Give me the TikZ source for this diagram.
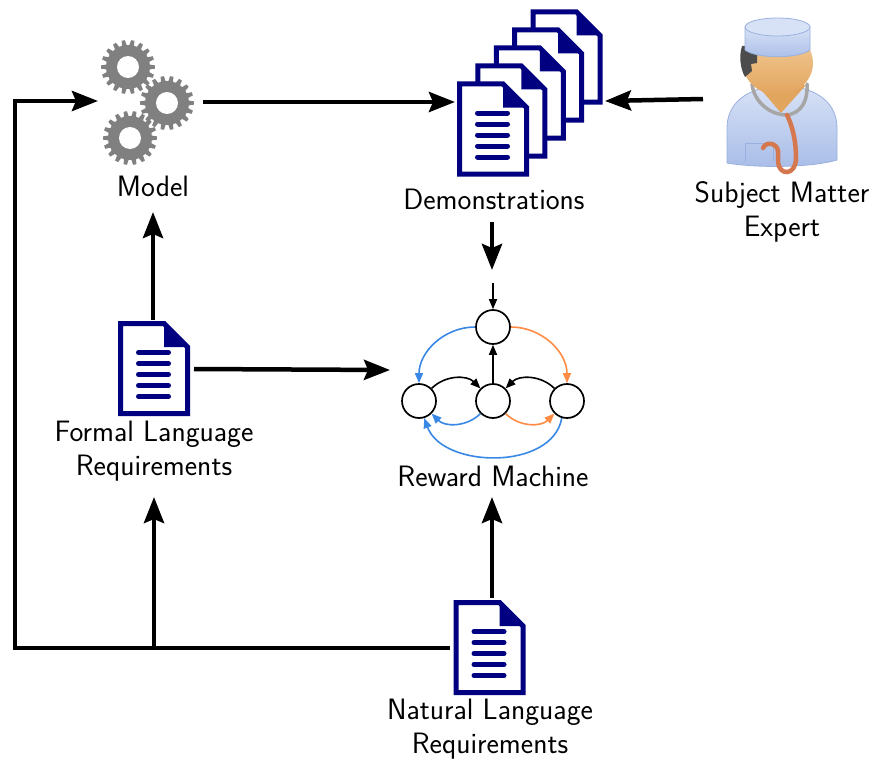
\documentclass[tikz,border=0pt]{standalone}
\usepackage{fontspec}
\usetikzlibrary{arrows.meta,calc}

\definecolor{docblue}{HTML}{000080}
\definecolor{gearfill}{HTML}{808080}
\definecolor{rmblue}{HTML}{3A88E6}
\definecolor{rmorange}{HTML}{FF8C45}
\definecolor{coatlight}{HTML}{D8E2F6}
\definecolor{coatdark}{HTML}{A9BDE8}
\definecolor{coatedge}{HTML}{9AB0DE}
\definecolor{skinlight}{HTML}{F4CE9C}
\definecolor{skindark}{HTML}{E2A55E}
\definecolor{tubegray}{HTML}{A6A6A6}
\definecolor{tubeorange}{HTML}{D5784F}

\tikzset{
  x=1pt, y=1pt,
  flow/.style={line width=4.5pt, -{Stealth[length=26pt,width=20pt,inset=4pt]}},
  label/.style={font=\sffamily\fontsize{29.5}{34}\selectfont, align=center, inner sep=0pt},
  state/.style={circle, draw, line width=1.7pt, minimum size=34pt, inner sep=0pt, fill=white},
  rmedge/.style={line width=1.6pt, -{Triangle[length=10pt,width=8pt]}},
  % one sheet of paper with a folded corner
  sheet/.pic={
    \filldraw[fill=white, draw=docblue, line width=5pt, line join=miter]
      (-33.5,45) -- (10,45) -- (33.5,21.5) -- (33.5,-45) -- (-33.5,-45) -- cycle;
    \fill[docblue] (10,45) -- (10,21.5) -- (33.5,21.5) -- cycle;
  },
  % a sheet with written lines
  textsheet/.pic={
    \pic {sheet};
    \foreach \yy in {16,5,-6,-17,-28}
      \draw[docblue, line width=5pt, line cap=round] (-15.5,\yy) -- (14.5,\yy);
  },
  % a gear wheel
  gear/.pic={
    \fill[gearfill] (0,0) circle (22);
    \foreach \a in {0,20,...,340}
      \fill[gearfill] (\a-7:21) -- (\a-3.5:27) -- (\a+3.5:27) -- (\a+7:21) -- cycle;
    \fill[white] (0,0) circle (11);
  }
}

\begin{document}
\begin{tikzpicture}
\useasboundingbox (0,0) rectangle (873,-760);

% ---- Model (gears) ----
\pic at (128,-67) {gear};
\pic at (167,-103) {gear};
\pic at (130,-138) {gear};
\node[label] (model) at (153,-186) {Model};

% ---- Demonstrations (stack of sheets) ----
\foreach \k in {4,3,2,1}
  \pic at ({493+18.4*\k},{-129+18*\k}) {sheet};
\pic at (493,-129) {textsheet};
\node[label] (demo) at (494,-199) {Demonstrations};

% ---- Subject Matter Expert ----
\begin{scope}
  % coat
  \path[top color=coatlight, bottom color=coatdark, draw=coatedge, line width=0.8pt]
    (727,-163) -- (727,-128) .. controls (727,-100) and (752,-86) .. (782,-86)
    .. controls (812,-86) and (837,-100) .. (837,-128) -- (837,-160)
    .. controls (810,-168) and (755,-168) .. (727,-163) -- cycle;
  % pocket
  \draw[coatedge, line width=1pt] (745,-162) -- (745,-143) -- (773,-143) -- (773,-162);
  % neck
  \fill[skindark] (757,-85) -- (806,-85) -- (781,-113) -- cycle;
  % stethoscope around the neck
  \draw[tubegray, line width=3.5pt, line cap=round]
    (752,-84) .. controls (754,-102) and (770,-115) .. (787,-115)
    .. controls (802,-113) and (808,-100) .. (807,-84);
  % head
  \path[top color=skinlight, bottom color=skindark] (778,-63) ellipse (35 and 32);
  % hair
  \fill[black!70] (757,-46) -- (757,-63) -- (751,-64) -- (752,-71) -- (745,-77)
    .. controls (740,-68) and (739,-56) .. (742,-46) -- cycle;
  % cap
  \path[top color=coatlight, bottom color=coatdark, draw=coatedge, line width=0.8pt]
    (745,-27) -- (745,-50) .. controls (757,-59) and (798,-59) .. (810,-50) -- (810,-27) -- cycle;
  \path[fill=coatlight, draw=coatedge, line width=0.8pt] (777.5,-27) ellipse (32.5 and 9);
  % stethoscope tube
  \draw[tubeorange, line width=4.5pt, line cap=round]
    (787,-115) .. controls (792,-125) and (796,-140) .. (796,-158)
    .. controls (796,-176) and (779,-176) .. (778,-162)
    -- (778,-151) .. controls (777,-143) and (766,-141) .. (763,-148);
  \coordinate (expertW) at (703,-99);
\end{scope}
\node[label] (expert) at (782,-212) {Subject Matter\\Expert};

% ---- Formal Language Requirements ----
\pic at (154,-368.5) {textsheet};
\node[label] (formal) at (154,-451) {Formal Language\\Requirements};

% ---- Natural Language Requirements ----
\pic at (489.5,-647.5) {textsheet};
\node[label] (natural) at (490,-729) {Natural Language\\Requirements};

% ---- Reward Machine ----
\node[state] (q0) at (493,-327) {};
\node[state] (q1) at (419,-401) {};
\node[state] (q2) at (493,-401) {};
\node[state] (q3) at (567,-401) {};
\coordinate (qin) at (493,-283);
\draw[rmedge] (qin) -- (q0);
\draw[rmedge, rmblue] (q0) to[bend right=45] (q1);
\draw[rmedge, rmorange] (q0) to[bend left=45] (q3);
\draw[rmedge] (q2) -- (q0);
\draw[rmedge] (q1) to[bend left=45] (q2);
\draw[rmedge, rmblue] (q2) to[bend left=45] (q1);
\draw[rmedge] (q3) to[bend right=45] (q2);
\draw[rmedge, rmorange] (q2) to[bend right=45] (q3);
\draw[rmedge, rmblue] (q3.-107) to[out=-100, in=-70, looseness=1] (q1.-73);
\node[label] (rm) at (493,-476) {Reward Machine};

% ---- arrow anchor points ----
\coordinate (modelE) at (203,-102);
\coordinate (modelW) at (98,-101);
\coordinate (modelS) at (153,-212);
\coordinate (demoW) at (455,-102);
\coordinate (demoE) at (605,-101);
\coordinate (demoS) at (492,-222);
\coordinate (rmN) at (492,-270);
\coordinate (rmW) at (390,-370);
\coordinate (rmS) at (492,-497);
\coordinate (formalN) at (153,-320);
\coordinate (formalE) at (194,-369);
\coordinate (formalS) at (154,-497);
\coordinate (naturalN) at (492,-598);
\coordinate (naturalW) at (450,-648);
\coordinate (loopBL) at (15,-648);
\coordinate (loopTL) at (15,-101);
\coordinate (branch) at (154,-648);

% ---- connectors ----
\draw[flow] (modelE) -- (demoW);
\draw[flow] (expertW) -- (demoE);
\draw[flow] (demoS) -- (rmN);
\draw[flow] (formalN) -- (modelS);
\draw[flow] (formalE) -- (rmW);
\draw[flow] (naturalN) -- (rmS);
\draw[flow, line join=miter] (naturalW) -- (loopBL) -- (loopTL) -- (modelW);
\draw[flow] (branch) -- (formalS);
\end{tikzpicture}
\end{document}
